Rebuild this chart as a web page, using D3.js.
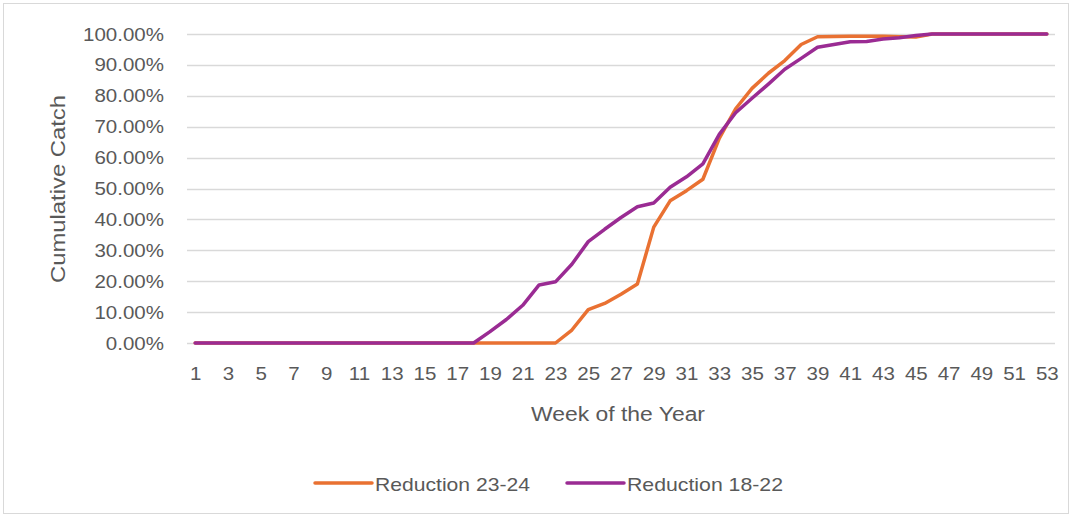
<!DOCTYPE html>
<html>
<head>
<meta charset="utf-8">
<script src="https://cdn.jsdelivr.net/npm/d3@7"></script>
<style>
  html, body { margin: 0; padding: 0; background: #fff; }
  svg { display: block; font-family: 'Liberation Sans', Arial, sans-serif; }
</style>
</head>
<body>
<div id="chart"></div>
<script>
const weeks = [1, 2, 3, 4, 5, 6, 7, 8, 9, 10, 11, 12, 13, 14, 15, 16, 17, 18, 19, 20,
  21, 22, 23, 24, 25, 26, 27, 28, 29, 30, 31, 32, 33, 34, 35, 36, 37, 38, 39, 40,
  41, 42, 43, 44, 45, 46, 47, 48, 49, 50, 51, 52, 53];

// cumulative share of catch, week 1..53
const reduction2324 = [0, 0, 0, 0, 0, 0, 0, 0, 0, 0, 0, 0, 0, 0, 0, 0, 0, 0, 0, 0,
  0, 0, 0, 0.042, 0.108, 0.128, 0.158, 0.191, 0.375, 0.46, 0.493, 0.53, 0.662, 0.758, 0.824, 0.873, 0.914, 0.966, 0.991, 0.992,
  0.993, 0.993, 0.993, 0.991, 0.99, 1, 1, 1, 1, 1, 1, 1, 1];
const reduction1822 = [0, 0, 0, 0, 0, 0, 0, 0, 0, 0, 0, 0, 0, 0, 0, 0, 0, 0, 0.037, 0.076,
  0.122, 0.188, 0.198, 0.255, 0.328, 0.368, 0.406, 0.441, 0.453, 0.504, 0.538, 0.58, 0.675, 0.745, 0.792, 0.838, 0.886, 0.921, 0.957, 0.966,
  0.975, 0.976, 0.984, 0.988, 0.995, 1, 1, 1, 1, 1, 1, 1, 1];

const yTicks = [0, 0.1, 0.2, 0.3, 0.4, 0.5, 0.6, 0.7, 0.8, 0.9, 1];
const xTickLabels = [1, 3, 5, 7, 9, 11, 13, 15, 17, 19, 21, 23, 25, 27, 29, 31, 33, 35, 37, 39,
  41, 43, 45, 47, 49, 51, 53];

const seriesList = [
  { name: 'Reduction 23-24', values: reduction2324, color: '#E97132' },
  { name: 'Reduction 18-22', values: reduction1822, color: '#9A2B93' },
];

const width = 1071;
const height = 518;
const plot = { left: 187, right: 1055, top: 34, bottom: 343 };
const textColor = '#595959';
const stretch = 1.08;

const svg = d3.select('#chart')
  .append('svg')
  .attr('width', width)
  .attr('height', height);

svg.append('rect')
  .attr('x', 3.5)
  .attr('y', 3.5)
  .attr('width', 1065)
  .attr('height', 510)
  .attr('fill', '#fff')
  .attr('stroke', '#d9d9d9');

const x = d3.scalePoint().domain(weeks).range([plot.left, plot.right]).padding(0.5);
const y = d3.scaleLinear().domain([0, 1]).range([plot.bottom, plot.top]);

// gridlines
svg.append('g')
  .selectAll('line')
  .data(yTicks)
  .join('line')
  .attr('x1', plot.left)
  .attr('x2', plot.right)
  .attr('y1', (d) => Math.round(y(d)) + 0.5)
  .attr('y2', (d) => Math.round(y(d)) + 0.5)
  .attr('stroke', '#d9d9d9')
  .attr('stroke-width', 1.3);

// y axis labels
const yAxis = svg.append('g')
  .attr('transform', 'translate(164,0)')
  .call(d3.axisLeft(y).tickValues(yTicks).tickFormat(d3.format('.2%')).tickSize(0).tickPadding(0));
yAxis.select('.domain').remove();
yAxis.selectAll('text')
  .attr('font-size', 19)
  .attr('font-family', null)
  .attr('fill', textColor)
  .attr('transform', `scale(${stretch},1)`);

// x axis labels
const xAxis = svg.append('g')
  .attr('transform', `translate(0,${plot.bottom})`)
  .call(d3.axisBottom(x).tickValues(xTickLabels).tickSize(0).tickPadding(24));
xAxis.select('.domain').remove();
xAxis.selectAll('text')
  .attr('font-size', 19)
  .attr('font-family', null)
  .attr('fill', textColor)
  .attr('transform', `scale(${stretch},1)`);

// lines
const line = d3.line()
  .x((d, i) => x(weeks[i]))
  .y((d) => y(d));

svg.append('g')
  .selectAll('path')
  .data(seriesList)
  .join('path')
  .attr('d', (s) => line(s.values))
  .attr('fill', 'none')
  .attr('stroke', (s) => s.color)
  .attr('stroke-width', 3.5)
  .attr('stroke-linejoin', 'round')
  .attr('stroke-linecap', 'round');

// axis titles
svg.append('text')
  .attr('x', 618)
  .attr('y', 421)
  .attr('text-anchor', 'middle')
  .attr('font-size', 20)
  .attr('fill', textColor)
  .attr('textLength', 174)
  .attr('lengthAdjust', 'spacingAndGlyphs')
  .text('Week of the Year');

svg.append('text')
  .attr('transform', 'translate(65,189) rotate(-90)')
  .attr('text-anchor', 'middle')
  .attr('font-size', 20)
  .attr('fill', textColor)
  .attr('textLength', 188)
  .attr('lengthAdjust', 'spacingAndGlyphs')
  .text('Cumulative  Catch');

// legend
const legendItems = [
  { lineX: 315, textX: 375, textLen: 155 },
  { lineX: 567, textX: 627, textLen: 156 },
];
const legend = svg.append('g')
  .selectAll('g')
  .data(seriesList)
  .join('g');
legend.append('line')
  .attr('x1', (d, i) => legendItems[i].lineX)
  .attr('x2', (d, i) => legendItems[i].lineX + 57)
  .attr('y1', 483)
  .attr('y2', 483)
  .attr('stroke', (d) => d.color)
  .attr('stroke-width', 3.5)
  .attr('stroke-linecap', 'round');
legend.append('text')
  .attr('x', (d, i) => legendItems[i].textX)
  .attr('y', 491)
  .attr('font-size', 19)
  .attr('fill', textColor)
  .attr('textLength', (d, i) => legendItems[i].textLen)
  .attr('lengthAdjust', 'spacingAndGlyphs')
  .text((d) => d.name);
</script>
</body>
</html>
